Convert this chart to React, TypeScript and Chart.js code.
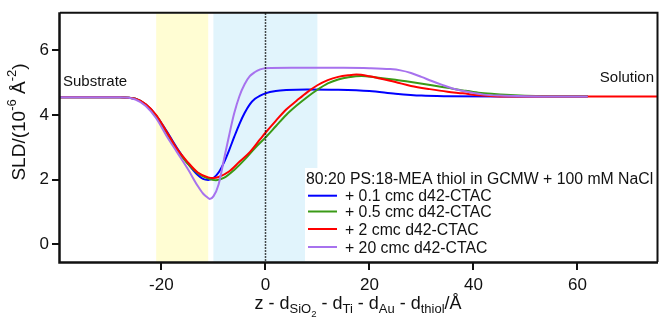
import React, { useEffect, useRef } from 'react';
import { Chart, registerables } from 'chart.js';

Chart.register(...registerables);

const FONT = '"Liberation Sans", Arial, Helvetica, sans-serif';

// ---- data ----
const xTicks = [-20, 0, 20, 40, 60];
const yTicks = [0, 2, 4, 6];
const xRange = [-39.5, 75.5];
const yRange = [-0.55, 7.15];

const yellowBand = [-21, -11];
const blueBand = [-10, 10];
const dottedAt = 0;

const legendTitle = '80:20 PS:18-MEA thiol in GCMW + 100 mM NaCl';
const seriesLabels = ['+ 0.1 cmc d42-CTAC', '+ 0.5 cmc d42-CTAC', '+ 2 cmc d42-CTAC', '+ 20 cmc d42-CTAC'];
const seriesColors = ['#0000FF', '#3A9A16', '#FF0000', '#A772EE'];

const blueX = [-39.5, -28, -25, -23, -21, -19, -17, -15, -13, -12, -11, -10, -9, -8, -7, -6, -5, -4, -3, -2, -1, 0, 2, 4, 8, 14, 20, 25, 30, 35, 45, 62];
const blueY = [4.55, 4.55, 4.5, 4.32, 3.98, 3.5, 2.98, 2.52, 2.14, 2.02, 1.99, 2.05, 2.22, 2.52, 2.9, 3.32, 3.72, 4.06, 4.33, 4.5, 4.6, 4.67, 4.74, 4.77, 4.79, 4.78, 4.74, 4.66, 4.6, 4.58, 4.57, 4.57];

const greenX = [-39.5, -28, -25, -23, -21, -19, -17, -15, -13, -11, -9.5, -8, -6, -4, -2, 0, 2, 4, 6, 8, 10, 12, 14, 16, 18.5, 21, 25, 28, 32, 35, 38, 41, 44, 48, 52, 62];
const greenY = [4.55, 4.55, 4.5, 4.32, 3.97, 3.45, 2.92, 2.5, 2.2, 2.03, 1.98, 2.05, 2.3, 2.62, 2.98, 3.3, 3.65, 4.0, 4.29, 4.55, 4.78, 4.98, 5.1, 5.17, 5.21, 5.17, 5.09, 5.02, 4.92, 4.84, 4.76, 4.69, 4.65, 4.61, 4.59, 4.58];

const redX = [-39.5, -28, -25, -23, -21, -19, -17, -15, -13, -11, -10, -9, -7, -5, -3, -1, 0, 2, 4, 6, 8, 10, 12, 14, 16, 17.5, 20, 22, 25, 28, 31.6, 35, 38, 41, 44, 50, 62, 75.5];
const redY = [4.55, 4.55, 4.5, 4.33, 4.0, 3.48, 2.95, 2.55, 2.22, 2.07, 2.05, 2.08, 2.25, 2.55, 2.85, 3.25, 3.45, 3.82, 4.17, 4.44, 4.7, 4.92, 5.08, 5.18, 5.23, 5.25, 5.2, 5.13, 5.02, 4.9, 4.8, 4.72, 4.67, 4.61, 4.58, 4.57, 4.57, 4.57];

const purpleX = [-39.5, -28, -25, -23, -21, -19, -17, -15, -13, -12, -11, -10.7, -10, -9, -8, -7, -6, -5, -4, -3, -2, -1, 0, 5, 10, 15, 20, 24, 26, 28, 30, 32, 34, 36, 38, 40, 42, 45, 50, 62];
const purpleY = [4.55, 4.55, 4.48, 4.28, 3.9, 3.35, 2.85, 2.35, 1.8, 1.57, 1.43, 1.4, 1.48, 1.85, 2.6, 3.35, 4.05, 4.58, 4.95, 5.2, 5.33, 5.41, 5.45, 5.46, 5.46, 5.46, 5.45, 5.42, 5.38, 5.3, 5.18, 5.05, 4.93, 4.82, 4.74, 4.68, 4.63, 4.6, 4.58, 4.57];

const seriesX = [blueX, greenX, redX, purpleX];
const seriesY = [blueY, greenY, redY, purpleY];

type Seg = { t: string; size: number; dy: number };

function drawRich(ctx: CanvasRenderingContext2D, segs: Seg[], cx: number, cy: number) {
  let total = 0;
  for (const s of segs) {
    ctx.font = `${s.size}px ${FONT}`;
    total += ctx.measureText(s.t).width;
  }
  let x = cx - total / 2;
  ctx.textAlign = 'left';
  ctx.textBaseline = 'alphabetic';
  for (const s of segs) {
    ctx.font = `${s.size}px ${FONT}`;
    ctx.fillText(s.t, x, cy + s.dy);
    x += ctx.measureText(s.t).width;
  }
}

const decorPlugin = {
  id: 'decor',
  beforeDraw(chart: any) {
    const { ctx, chartArea: a, scales } = chart;
    const x = scales.x;
    ctx.save();
    ctx.beginPath();
    ctx.rect(a.left, a.top, a.right - a.left, a.bottom - a.top);
    ctx.clip();
    const bands: [number[], string][] = [[yellowBand, '#FFFDD3'], [blueBand, '#E1F4FC']];
    for (const [b, c] of bands) {
      const p0 = x.getPixelForValue(b[0]);
      const p1 = x.getPixelForValue(b[1]);
      ctx.fillStyle = c;
      ctx.fillRect(p0, a.top, p1 - p0, a.bottom - a.top);
    }
    ctx.restore();
  },
  afterDatasetsDraw(chart: any) {
    const { ctx, chartArea: a, scales } = chart;
    const x = scales.x;
    ctx.save();
    // dotted line
    const px = Math.round(x.getPixelForValue(dottedAt)) + 0.5;
    ctx.strokeStyle = '#111';
    ctx.lineWidth = 1.5;
    ctx.setLineDash([1.5, 1.5]);
    ctx.beginPath();
    ctx.moveTo(px, a.top);
    ctx.lineTo(px, a.bottom);
    ctx.stroke();
    ctx.setLineDash([]);

    // legend box
    const lx = 305, ly = 168;
    ctx.fillStyle = '#ffffff';
    ctx.fillRect(lx, ly, a.right - lx - 1, a.bottom - ly - 1);
    ctx.fillStyle = '#111';
    ctx.font = `15.8px ${FONT}`;
    ctx.textAlign = 'left';
    ctx.textBaseline = 'alphabetic';
    ctx.fillText(legendTitle, 306, 183.5);
    const rowY = [195.7, 211.5, 229, 247];
    seriesLabels.forEach((lab, i) => {
      ctx.strokeStyle = seriesColors[i];
      ctx.lineWidth = 2;
      ctx.beginPath();
      ctx.moveTo(308, rowY[i]);
      ctx.lineTo(337, rowY[i]);
      ctx.stroke();
      ctx.fillStyle = '#111';
      ctx.fillText(lab, 345, rowY[i] + 5.5);
    });

    // end labels
    ctx.font = `15px ${FONT}`;
    ctx.textAlign = 'left';
    ctx.fillText('Substrate', 63, 85.5);
    ctx.textAlign = 'right';
    ctx.fillText('Solution', 654, 82.3);
    ctx.restore();
  },
  afterDraw(chart: any) {
    const { ctx, chartArea: a } = chart;
    ctx.save();
    ctx.strokeStyle = '#111';
    // top & right frame
    ctx.lineWidth = 2;
    ctx.beginPath();
    ctx.moveTo(a.left, a.top - 0.5);
    ctx.lineTo(a.right - 0.5, a.top - 0.5);
    ctx.lineTo(a.right - 0.5, a.bottom);
    ctx.stroke();
    // left & bottom axes
    ctx.lineWidth = 2.5;
    ctx.beginPath();
    ctx.moveTo(a.left - 0.5, a.top - 1);
    ctx.lineTo(a.left - 0.5, a.bottom + 0.5);
    ctx.lineTo(a.right, a.bottom + 0.5);
    ctx.stroke();

    // x title
    ctx.fillStyle = '#111';
    const M = 18, S = 13, SS = 9.5;
    drawRich(ctx, [
      { t: 'z - d', size: M, dy: 0 },
      { t: 'SiO', size: S, dy: 4 },
      { t: '2', size: SS, dy: 7.5 },
      { t: ' - d', size: M, dy: 0 },
      { t: 'Ti', size: S, dy: 4 },
      { t: ' - d', size: M, dy: 0 },
      { t: 'Au', size: S, dy: 4 },
      { t: ' - d', size: M, dy: 0 },
      { t: 'thiol', size: S, dy: 4 },
      { t: '/Å', size: M, dy: 0 },
    ], 358, 309);

    // y title
    ctx.save();
    ctx.translate(25, 122);
    ctx.rotate(-Math.PI / 2);
    drawRich(ctx, [
      { t: 'SLD/(10', size: 19, dy: 0 },
      { t: '-6', size: 13, dy: -9 },
      { t: ' Å', size: 19, dy: 0 },
      { t: '-2', size: 13, dy: -9 },
      { t: ')', size: 19, dy: 0 },
    ], 0, 0);
    ctx.restore();
    ctx.restore();
  },
};

export default function App() {
  const ref = useRef<HTMLCanvasElement | null>(null);
  useEffect(() => {
    document.body.style.margin = '0';
    const canvas = ref.current!;
    const datasets = seriesLabels.map((lab, i) => ({
      label: lab,
      data: seriesX[i].map((xv, j) => ({ x: xv, y: seriesY[i][j] })),
      borderColor: seriesColors[i],
      backgroundColor: seriesColors[i],
      borderWidth: 2,
      pointRadius: 0,
      fill: false,
      cubicInterpolationMode: 'monotone' as const,
      order: 4 - i,
    }));
    const tickFont = { family: FONT, size: 17 };
    const chart = new Chart(canvas, {
      type: 'line',
      data: { datasets },
      plugins: [decorPlugin],
      options: {
        responsive: false,
        animation: false,
        layout: { padding: { left: 0, right: 3, top: 2, bottom: 0 } },
        plugins: { legend: { display: false }, tooltip: { enabled: false } },
        scales: {
          x: {
            type: 'linear',
            min: xRange[0],
            max: xRange[1],
            afterBuildTicks: (s: any) => { s.ticks = xTicks.map((v) => ({ value: v })); },
            afterFit: (s: any) => { s.height = 58; },
            grid: { drawOnChartArea: false, drawTicks: true, tickLength: 8, color: '#111', lineWidth: 2 },
            border: { display: false },
            ticks: { font: tickFont, color: '#111', padding: 5, maxRotation: 0 },
          },
          y: {
            type: 'linear',
            min: yRange[0],
            max: yRange[1],
            afterBuildTicks: (s: any) => { s.ticks = yTicks.map((v) => ({ value: v })); },
            afterFit: (s: any) => { s.width = 60; },
            grid: { drawOnChartArea: false, drawTicks: true, tickLength: 8, color: '#111', lineWidth: 2 },
            border: { display: false },
            ticks: { font: tickFont, color: '#111', padding: 3 },
          },
        },
      },
    });
    return () => chart.destroy();
  }, []);
  return (
    <div style={{ position: 'absolute', left: 0, top: 0, width: 661, height: 320 }}>
      <canvas ref={ref} width={661} height={320} style={{ width: 661, height: 320 }} />
    </div>
  );
}
